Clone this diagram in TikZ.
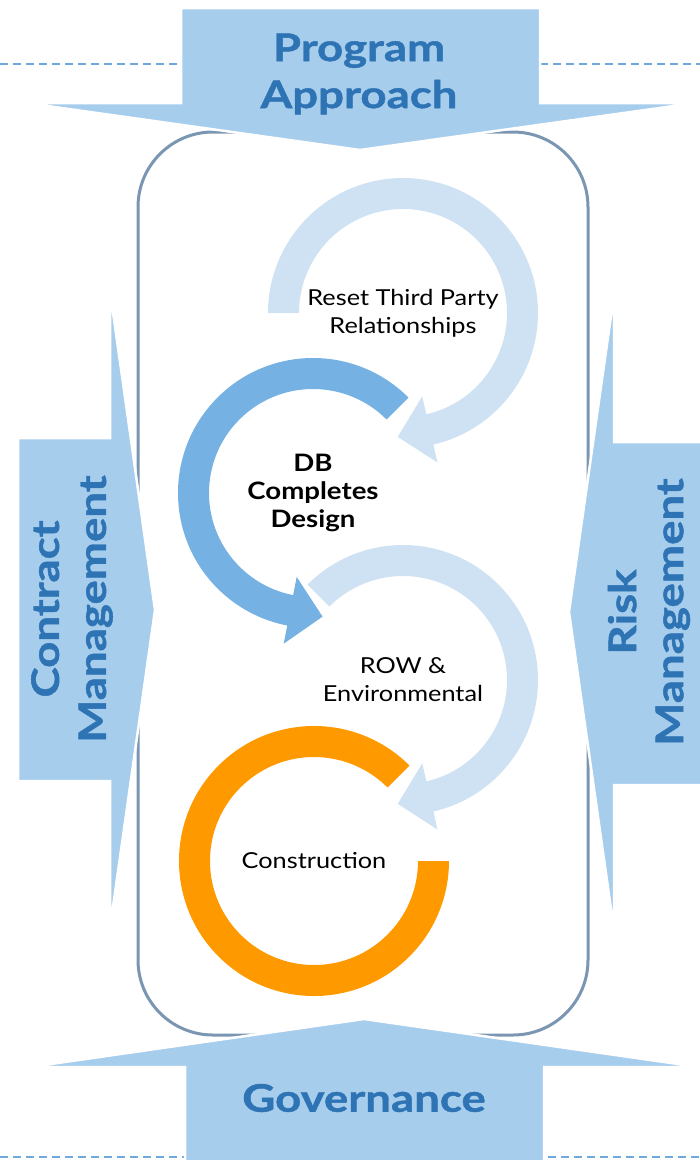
\documentclass[tikz,border=0pt]{standalone}
\usepackage{fontspec}
\setmainfont{Lato}
\newfontfamily\titlefont{Lato}[FakeStretch=1.2, BoldFeatures={FakeBold=1.2}]
\newfontfamily\bodyfont{Lato}[FakeStretch=1.15]
\usetikzlibrary{calc}
\definecolor{arrowfill}{RGB}{167,205,237}
\definecolor{titleblue}{RGB}{46,116,181}
\definecolor{lightarc}{RGB}{207,226,243}
\definecolor{midarc}{RGB}{117,177,226}
\definecolor{orangearc}{RGB}{255,153,0}
\definecolor{framecol}{RGB}{122,150,178}
\definecolor{dashcol}{RGB}{111,168,220}
\begin{document}
\begin{tikzpicture}[x=1pt,y=1pt,
  bigarrow/.style={fill=arrowfill, draw=white, line width=2.5pt, line join=miter},
  titletext/.style={text=titleblue, font=\titlefont\fontsize{38}{47}\selectfont\bfseries, align=center, inner sep=0pt},
  steptext/.style={text=black, font=\bodyfont\fontsize{22}{28}\selectfont, align=center, inner sep=0pt},
  boldstep/.style={text=black, font=\bodyfont\fontsize{24}{28}\selectfont\bfseries, align=center, inner sep=0pt},
  dashline/.style={draw=dashcol, line width=1.5pt, dash pattern=on 8pt off 5pt},
  frame/.style={draw=framecol, line width=3pt, rounded corners=75pt}]
\useasboundingbox (0,0) rectangle (700,-1160);
% dashed guide lines
\coordinate (dl1) at (0,-64);   \coordinate (dl2) at (180,-64);
\coordinate (dl3) at (540,-64); \coordinate (dl4) at (700,-64);
\coordinate (dl5) at (0,-1157); \coordinate (dl6) at (185,-1157);
\coordinate (dl7) at (548,-1157); \coordinate (dl8) at (700,-1157);
\draw[dashline] (dl1) -- (dl2);
\draw[dashline] (dl3) -- (dl4);
\draw[dashline] (dl5) -- (dl6);
\draw[dashline] (dl7) -- (dl8);
% frame
\draw[frame] (138,-132) rectangle (588,-1035);
% circle centres
\coordinate (c1) at (403,-313);
\coordinate (c2) at (313,-493);
\coordinate (c3) at (403,-680);
\coordinate (c4) at (314,-861);
% arc 1
\fill[lightarc] ($(c1)+(180:135)$) arc[start angle=180,end angle=-77,radius=135]
  -- ($(c1)+(-77:153.5)$) -- ($(c1)+(-77:119.5)+(-167:33)$) -- ($(c1)+(-77:85.5)$)
  -- ($(c1)+(-77:104)$) arc[start angle=-77,end angle=180,radius=104] -- cycle;
% arc 2
\fill[midarc] ($(c2)+(45:135)$) arc[start angle=45,end angle=259,radius=135]
  -- ($(c2)+(259:153.5)$) -- ($(c2)+(259:119.5)+(349:33)$) -- ($(c2)+(259:85.5)$)
  -- ($(c2)+(259:104)$) arc[start angle=259,end angle=45,radius=104] -- cycle;
% arc 3
\fill[lightarc] ($(c3)+(135:135)$) arc[start angle=135,end angle=-77,radius=135]
  -- ($(c3)+(-77:153.5)$) -- ($(c3)+(-77:119.5)+(-167:33)$) -- ($(c3)+(-77:85.5)$)
  -- ($(c3)+(-77:104)$) arc[start angle=-77,end angle=135,radius=104] -- cycle;
% arc 4
\fill[orangearc] ($(c4)+(45:135)$) arc[start angle=45,end angle=360,radius=135]
  -- ($(c4)+(0:104)$) arc[start angle=360,end angle=45,radius=104] -- cycle;
% big arrows
\path[bigarrow] (181,-8) -- (540,-8) -- (540,-103) -- (695,-103) -- (360,-150)
  -- (26,-103) -- (181,-103) -- cycle;
\path[bigarrow] (185,-1162) -- (544,-1162) -- (544,-1067) -- (699,-1067) -- (364,-1019)
  -- (30,-1067) -- (185,-1067) -- cycle;
\path[bigarrow] (18,-438) -- (110,-438) -- (110,-291) -- (155,-610) -- (110,-928)
  -- (110,-781) -- (18,-781) -- cycle;
\path[bigarrow] (702,-442) -- (614,-442) -- (614,-295) -- (569,-612) -- (614,-930)
  -- (614,-785) -- (702,-785) -- cycle;
% texts
\node[titletext] (pa) at (359,-74) {Program\\Approach};
\node[titletext] (gov) at (364,-1098) {Governance};
\node[titletext, rotate=90] (cm) at (72,-609) {Contract\\Management};
\node[titletext, rotate=90] (rm) at (649,-612) {Risk\\Management};
\node[steptext] (t1) at (c1) {Reset Third Party\\Relationships};
\node[boldstep] (t2) at (c2) {DB\\Completes\\Design};
\node[steptext] (t3) at (c3) {ROW \&\\Environmental};
\node[steptext] (t4) at (c4) {Construction};
\end{tikzpicture}
\end{document}
